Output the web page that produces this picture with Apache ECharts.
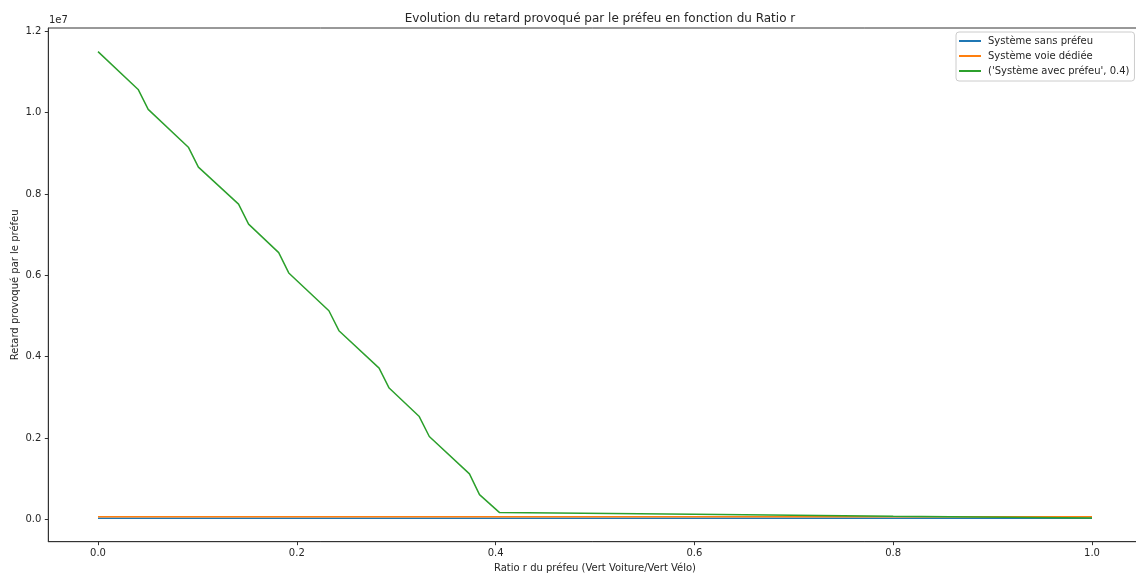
<!DOCTYPE html>
<html>
<head>
<meta charset="utf-8">
<script src="https://cdn.jsdelivr.net/npm/echarts@6/dist/echarts.min.js"></script>
<style>
html,body{margin:0;padding:0;background:#fff;}
#chart{width:1136px;height:576px;}
</style>
</head>
<body>
<div id="chart"></div>
<script>
// ---- data ----
var titleText = "Evolution du retard provoqué par le préfeu en fonction du Ratio r";
var xAxisName = "Ratio r du préfeu (Vert Voiture/Vert Vélo)";
var yAxisName = "Retard provoqué par le préfeu";
var seriesNames = ["Système sans préfeu", "Système voie dédiée", "('Système avec préfeu', 0.4)"];

var sansX = [0.0, 1.0];
var sansY = [30000, 30000];

var dedieeX = [0.0, 1.0];
var dedieeY = [68000, 68000];

var avecX = [0.0, 0.0404, 0.0505, 0.0909, 0.101, 0.1414, 0.1515, 0.1818, 0.1919, 0.2323, 0.2424,
             0.2828, 0.2929, 0.3232, 0.3333, 0.3737, 0.3838, 0.404, 0.6, 0.8, 1.0];
var avecY = [11500000, 10570000, 10080000, 9150000, 8660000, 7750000, 7260000, 6560000, 6060000,
             5130000, 4640000, 3720000, 3230000, 2530000, 2040000, 1120000, 610000, 170000,
             128000, 80000, 35000];

var xTicks = [0, 0.2, 0.4, 0.6, 0.8, 1.0];
var yTicks = [0, 2000000, 4000000, 6000000, 8000000, 10000000, 12000000];

function pairs(xs, ys) { return xs.map(function (x, i) { return [x, ys[i]]; }); }

var font = "DejaVu Sans";
var textColor = "#262626";
var chart = echarts.init(document.getElementById('chart'), null, {renderer: 'canvas'});
chart.setOption({
  animation: false,
  backgroundColor: '#fff',
  color: ['#1f77b4', '#ff7f0e', '#2ca02c'],
  title: {
    text: titleText,
    left: 595, top: 8, textAlign: 'center',
    textStyle: {fontFamily: font, fontSize: 12, fontWeight: 'normal', color: textColor}
  },
  graphic: [{
    type: 'text', left: 49, top: 15,
    style: {text: '1e7', font: '10px "DejaVu Sans"', fill: textColor}
  }],
  legend: {
    orient: 'vertical',
    left: 956, top: 32,
    padding: [4, 5, 5, 3],
    itemGap: 5,
    itemWidth: 22, itemHeight: 2,
    icon: 'rect',
    borderColor: '#cccccc', borderWidth: 1, borderRadius: 3,
    backgroundColor: '#fff',
    textStyle: {fontFamily: font, fontSize: 10, color: textColor, padding: [0, 0, 0, 2]},
    data: seriesNames
  },
  grid: {
    left: 48.3, top: 28, width: 1093.4, height: 513.7,
    outerBoundsMode: 'none',
    show: true, borderColor: '#333', borderWidth: 1, containLabel: false
  },
  xAxis: {
    type: 'value', min: -0.05, max: 1.05,
    name: xAxisName, nameLocation: 'middle', nameGap: 22, nameMoveOverlap: false,
    nameTextStyle: {fontFamily: font, fontSize: 10, color: textColor},
    axisLine: {show: true, onZero: false, lineStyle: {color: '#333', width: 1}},
    axisTick: {show: true, length: 3.5, customValues: xTicks, lineStyle: {color: '#333'}},
    axisLabel: {customValues: xTicks, margin: 7, fontFamily: font, fontSize: 10, color: textColor,
      formatter: function (v) { return v.toFixed(1); }},
    splitLine: {show: false}
  },
  yAxis: {
    type: 'value', min: -546000, max: 12080000,
    name: yAxisName, nameLocation: 'middle', nameGap: 28, nameRotate: 90, nameMoveOverlap: false,
    nameTextStyle: {fontFamily: font, fontSize: 10, color: textColor},
    axisLine: {show: true, onZero: false, lineStyle: {color: '#333', width: 1}},
    axisTick: {show: true, length: 3.5, customValues: yTicks, lineStyle: {color: '#333'}},
    axisLabel: {customValues: yTicks, margin: 7, fontFamily: font, fontSize: 10, color: textColor,
      formatter: function (v) { return (v / 1e7).toFixed(1); }},
    splitLine: {show: false}
  },
  series: [
    {name: seriesNames[0], type: 'line', data: pairs(sansX, sansY), showSymbol: false, symbol: 'none',
     lineStyle: {width: 1.5}},
    {name: seriesNames[1], type: 'line', data: pairs(dedieeX, dedieeY), showSymbol: false, symbol: 'none',
     lineStyle: {width: 1.5}},
    {name: seriesNames[2], type: 'line', data: pairs(avecX, avecY), showSymbol: false, symbol: 'none',
     lineStyle: {width: 1.5}}
  ]
});
</script>
</body>
</html>
